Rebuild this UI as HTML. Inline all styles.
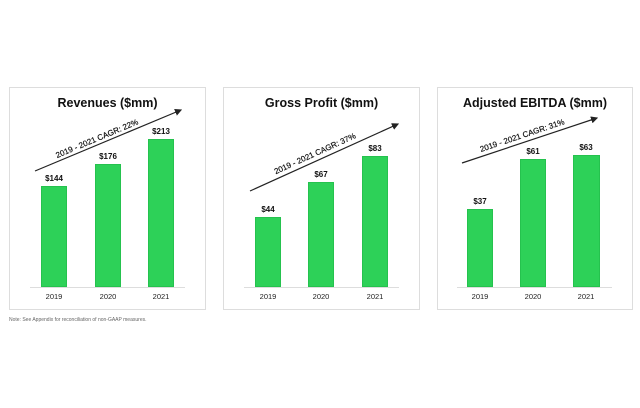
<!DOCTYPE html>
<html><head><style>
body{margin:0;width:640px;height:408px;background:#fff;font-family:"Liberation Sans",sans-serif;position:relative;overflow:hidden}
.p{position:absolute;border:1px solid #ddd;background:#fff}
.t{position:absolute;font-weight:bold;font-size:12.5px;color:#111;text-align:center;white-space:nowrap}
.b{position:absolute;background:#2dd158;border:1px solid #25c24e;box-sizing:border-box}
.v{position:absolute;font-size:8px;font-weight:bold;color:#111;width:40px;text-align:center}
.y{position:absolute;font-size:7.5px;color:#222;width:40px;text-align:center;top:292px}
.ax{position:absolute;height:1px;background:#ddd;top:287px}
</style></head><body>
<div class="p" style="left:9px;top:87px;width:195px;height:221px"></div>
<div class="p" style="left:223px;top:87px;width:195px;height:221px"></div>
<div class="p" style="left:437px;top:87px;width:194px;height:221px"></div>

<div class="t" style="left:9px;width:197px;top:96px">Revenues ($mm)</div>
<div class="t" style="left:223px;width:197px;top:96px">Gross Profit ($mm)</div>
<div class="t" style="left:437px;width:196px;top:96px">Adjusted EBITDA ($mm)</div>

<div class="ax" style="left:30px;width:155px"></div>
<div class="ax" style="left:244px;width:155px"></div>
<div class="ax" style="left:457px;width:155px"></div>

<div class="b" style="left:41px;top:186px;width:26px;height:101px"></div>
<div class="b" style="left:95px;top:164px;width:26px;height:123px"></div>
<div class="b" style="left:148px;top:139px;width:26px;height:148px"></div>
<div class="v" style="left:34px;top:174px">$144</div>
<div class="v" style="left:88px;top:152px">$176</div>
<div class="v" style="left:141px;top:127px">$213</div>
<div class="y" style="left:34px">2019</div><div class="y" style="left:88px">2020</div><div class="y" style="left:141px">2021</div>

<div class="b" style="left:255px;top:217px;width:26px;height:70px"></div>
<div class="b" style="left:308px;top:182px;width:26px;height:105px"></div>
<div class="b" style="left:362px;top:156px;width:26px;height:131px"></div>
<div class="v" style="left:248px;top:205px">$44</div>
<div class="v" style="left:301px;top:170px">$67</div>
<div class="v" style="left:355px;top:144px">$83</div>
<div class="y" style="left:248px">2019</div><div class="y" style="left:301px">2020</div><div class="y" style="left:355px">2021</div>

<div class="b" style="left:467px;top:209px;width:26px;height:78px"></div>
<div class="b" style="left:520px;top:159px;width:26px;height:128px"></div>
<div class="b" style="left:573px;top:155px;width:27px;height:132px"></div>
<div class="v" style="left:460px;top:197px">$37</div>
<div class="v" style="left:513px;top:147px">$61</div>
<div class="v" style="left:566px;top:143px">$63</div>
<div class="y" style="left:460px">2019</div><div class="y" style="left:513px">2020</div><div class="y" style="left:566px">2021</div>

<svg width="640" height="408" style="position:absolute;left:0;top:0">
<defs><marker id="a" markerWidth="6" markerHeight="6" refX="5" refY="3" orient="auto"><path d="M0,0L6,3L0,6z" fill="#222"/></marker></defs>
<g stroke="#222" stroke-width="1.2" marker-end="url(#a)">
<line x1="35" y1="171" x2="181" y2="110"/>
<line x1="250" y1="191" x2="398" y2="124"/>
<line x1="462" y1="163" x2="597" y2="118"/>
</g>
<g font-family="Liberation Sans,sans-serif" font-size="8" fill="#111" stroke="#111" stroke-width="0.2" text-anchor="middle">
<text transform="translate(98,141) rotate(-22.7)">2019 - 2021 CAGR: 22%</text>
<text transform="translate(316,156) rotate(-24.4)">2019 - 2021 CAGR: 37%</text>
<text transform="translate(523,138) rotate(-18.4)">2019 - 2021 CAGR: 31%</text>
</g>
</svg>
<div style="position:absolute;left:9px;top:317px;font-size:5px;color:#666">Note: See Appendix for reconciliation of non-GAAP measures.</div>
</body></html>
